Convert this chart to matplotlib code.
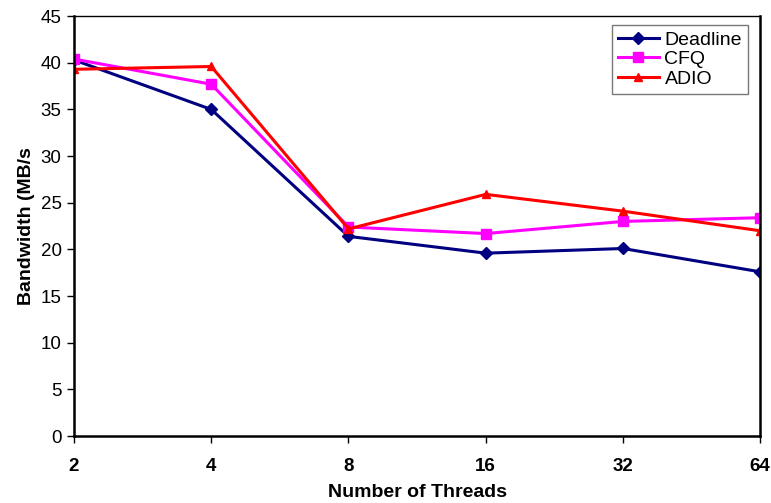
import numpy as np
import matplotlib.pyplot as plt

plt.rcParams['font.family'] = ['Liberation Sans', 'DejaVu Sans']

# data
threads = ['2', '4', '8', '16', '32', '64']
deadline = [40.3, 35.0, 21.4, 19.6, 20.1, 17.6]
cfq = [40.4, 37.7, 22.4, 21.7, 23.0, 23.4]
adio = [39.3, 39.6, 22.2, 25.9, 24.1, 22.0]

fig = plt.figure(figsize=(7.71, 5.03), dpi=100)
ax = fig.add_axes([0.096, 0.133, 0.89, 0.835])

x = np.arange(len(threads))
ax.plot(x, deadline, color='#000080', lw=2.2, marker='D', ms=6, label='Deadline')
ax.plot(x, cfq, color='#FF00FF', lw=2.2, marker='s', ms=7.5, label='CFQ')
ax.plot(x, adio, color='#FF0000', lw=2.2, marker='^', ms=6, label='ADIO')

ax.set_xlim(0, len(threads) - 1)
ax.set_ylim(0, 45)
ax.set_yticks(range(0, 46, 5))
ax.set_xticks(x)
ax.set_xticklabels(threads, fontweight='bold')

ax.tick_params(axis='y', direction='out', length=5, width=1, labelsize=13.5, pad=4)
ax.tick_params(axis='x', direction='out', length=5, width=1, labelsize=13.5, pad=11)
for s in ax.spines.values():
    s.set_linewidth(1.8)
ax.spines['top'].set_linewidth(1.0)

ax.set_xlabel('Number of Threads', fontsize=14, fontweight='bold', labelpad=6)
ax.set_ylabel('Bandwidth (MB/s', fontsize=14, fontweight='bold', labelpad=4)

leg = ax.legend(loc='upper right', bbox_to_anchor=(0.9825, 0.979), fontsize=14,
                frameon=True, fancybox=False, handlelength=2.1, handletextpad=0.3,
                borderpad=0.32, labelspacing=0.1, borderaxespad=0)
leg.get_frame().set_edgecolor('#555555')
leg.get_frame().set_linewidth(1.0)

fig.savefig('out.png', dpi=100)
